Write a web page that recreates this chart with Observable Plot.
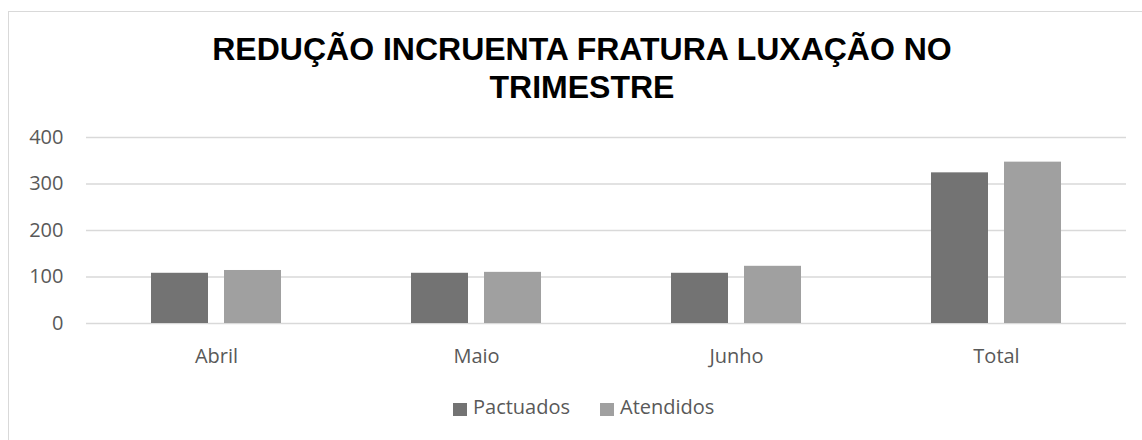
<!DOCTYPE html>
<html>
<head>
<meta charset="utf-8">
<script src="https://cdn.jsdelivr.net/npm/d3@7"></script>
<script src="https://cdn.jsdelivr.net/npm/@observablehq/plot@0.6"></script>
<style>
  html, body { margin: 0; padding: 0; background: #fff; overflow: hidden; }
  body { position: relative; width: 1142px; height: 440px; }
  #frame { position: absolute; left: 8px; top: 11px; width: 1200px; height: 500px;
           border-top: 1px solid #d9d9d9; border-left: 1px solid #d9d9d9; box-sizing: border-box; }
  #title { position: absolute; left: 0; top: 30px; width: 1164px; text-align: center;
           font-family: "Liberation Sans", Arial, sans-serif; font-weight: bold; font-size: 32px;
           line-height: 38px; color: #000; }
  #chart { position: absolute; left: 0; top: 0; }
  #legend { position: absolute; left: 453px; top: 397px; display: flex; align-items: flex-start;
            font-family: "Open Sans", sans-serif; font-size: 20px; line-height: 20px; color: #595959; }
  .sw { width: 14px; height: 13px; margin-top: 6px; margin-right: 6px; }
  .item { display: flex; align-items: flex-start; margin-right: 30px; }
</style>
</head>
<body>
<div id="frame"></div>
<div id="title"></div>
<div id="chart"></div>
<div id="legend"></div>
<script>
const titleLines = ["REDUÇÃO INCRUENTA FRATURA LUXAÇÃO NO", "TRIMESTRE"];
const months = ["Abril", "Maio", "Junho", "Total"];
const series = ["Pactuados", "Atendidos"];
const pactuados = [108, 108, 108, 324];
const atendidos = [114, 110, 123, 347];
const yTicks = [0, 100, 200, 300, 400];
const colors = ["#737373", "#a0a0a0"];

const data = months.flatMap((m, i) => [
  {month: m, serie: series[0], value: pactuados[i]},
  {month: m, serie: series[1], value: atendidos[i]}
]);

const t = document.getElementById("title");
titleLines.forEach((l, i) => {
  if (i) t.appendChild(document.createElement("br"));
  t.appendChild(document.createTextNode(l));
});

const chart = Plot.plot({
  width: 1142,
  height: 380,
  marginTop: 137,
  marginBottom: 57,
  marginLeft: 85,
  marginRight: 15,
  style: {fontFamily: "'Open Sans', sans-serif", color: "#595959", background: "transparent", overflow: "visible"},
  fx: {domain: months, padding: 0},
  x: {domain: series, paddingInner: 0.216, paddingOuter: 0.868, axis: null},
  y: {domain: [0, 400], axis: null},
  color: {domain: series, range: colors},
  marks: [
    Plot.gridY(yTicks, {stroke: "#d9d9d9", strokeOpacity: 1, strokeWidth: 1.5}),
    Plot.barY(data, {fx: "month", x: "serie", y: "value", fill: "serie"}),
    Plot.axisY(yTicks, {tickSize: 0, tickPadding: 23, fontSize: 20, label: null, tickFormat: d => String(d)}),
    Plot.axisFx({anchor: "bottom", tickSize: 0, tickPadding: 25, fontSize: 20, label: null})
  ]
});
document.getElementById("chart").appendChild(chart);

const lg = document.getElementById("legend");
series.forEach((s, i) => {
  const it = document.createElement("div");
  it.className = "item";
  const sw = document.createElement("div");
  sw.className = "sw";
  sw.style.background = colors[i];
  const tx = document.createElement("span");
  tx.textContent = s;
  it.appendChild(sw);
  it.appendChild(tx);
  lg.appendChild(it);
});
</script>
</body>
</html>
